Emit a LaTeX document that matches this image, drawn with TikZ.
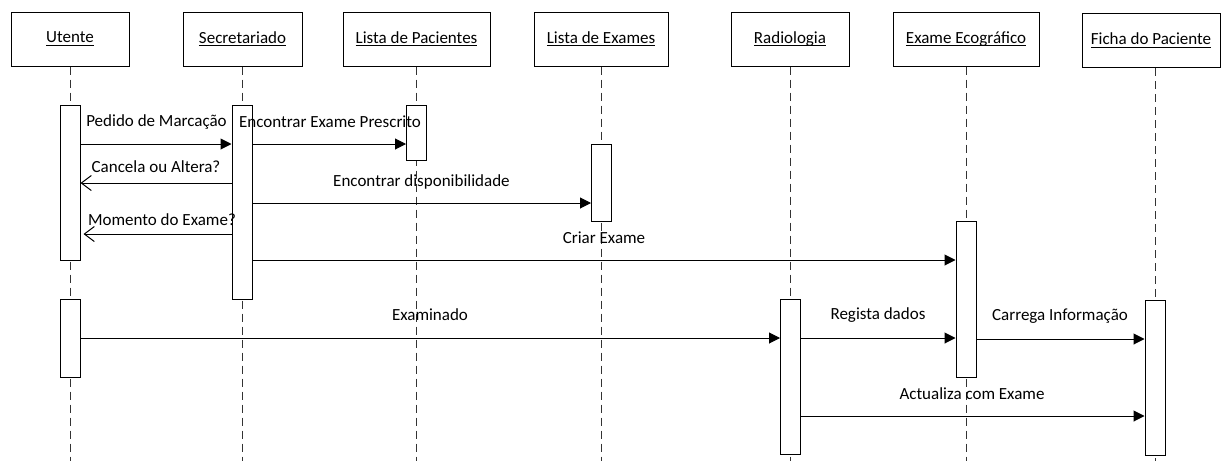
\documentclass[tikz,border=0pt]{standalone}
\usepackage{fontspec}
\setmainfont{Carlito}
\usetikzlibrary{arrows.meta}
% underline with a fixed offset and thickness, crossing descenders
\newcommand\headul[1]{\setbox0\hbox{#1}\rlap{\copy0}\rule[-3pt]{\wd0}{1pt}}
\begin{document}
\begin{tikzpicture}[x=1pt,y=-1pt,
  head/.style={draw, line width=1pt, minimum height=54pt, inner sep=0pt,
    font=\fontsize{17}{20}\selectfont},
  bar/.style={draw, fill=white, line width=1pt, minimum width=20pt, inner sep=0pt},
  life/.style={draw=black!80, line width=1pt, dash pattern=on 8pt off 5pt},
  sync/.style={line width=1pt, -{Triangle[length=11pt,width=11pt]}},
  reply/.style={line width=1pt, -{Straight Barb[length=10pt,width=15pt]}},
  lbl/.style={font=\fontsize{17}{20}\selectfont, inner sep=0pt}
]
\useasboundingbox (0,0) rectangle (1221,461);

% participants
\node[head, minimum width=118pt] (hU) at (70,39)    {\headul{Utente}};
\node[head, minimum width=119pt] (hS) at (242.5,39) {\headul{Secretariado}};
\node[head, minimum width=147pt] (hP) at (416.5,39) {\headul{Lista de Pacientes}};
\node[head, minimum width=134pt] (hE) at (601,39)   {\headul{Lista de Exames}};
\node[head, minimum width=118pt] (hR) at (790,39)   {\headul{Radiologia}};
\node[head, minimum width=146pt] (hX) at (966,39)   {\headul{Exame Ecográfico}};
\node[head, minimum width=138pt] (hF) at (1151,40.5) {\headul{Ficha do Paciente}};

% lifelines
\coordinate (bottom) at (0,461);
\foreach \h in {hU,hS,hP,hE,hR,hX} {
  \draw[life] (\h.south) -- (\h.south |- bottom);
}
\draw[life] (1155,68) coordinate (fTop) -- (fTop |- bottom);

% activation bars
\node[bar, minimum height=155pt] (u1) at (70,182.5) {};
\node[bar, minimum height=78pt]  (u2) at (70,338) {};
\node[bar, minimum height=194pt] (s1) at (242,202) {};
\node[bar, minimum height=55pt]  (p1) at (416.5,132.5) {};
\node[bar, minimum height=77pt]  (e1) at (601.5,182.5) {};
\node[bar, minimum height=156pt] (x1) at (966,299) {};
\node[bar, minimum height=155pt] (r1) at (790.5,376.5) {};
\node[bar, minimum height=155pt] (f1) at (1155,377.5) {};

% message heights
\coordinate (m1) at (0,144);
\coordinate (m2) at (0,183);
\coordinate (m3) at (0,203);
\coordinate (m4) at (0,234);
\coordinate (m5) at (0,260);
\coordinate (m6) at (0,338);
\coordinate (m7) at (0,339);
\coordinate (m8) at (0,416);

% messages
\draw[sync]  (u1.east |- m1) -- (s1.west |- m1);
\draw[sync]  (s1.east |- m1) -- (p1.west |- m1);
\draw[reply] (s1.west |- m2) -- (u1.east |- m2);
\draw[sync]  (s1.east |- m3) -- (e1.west |- m3);
\draw[reply] (s1.west |- m4) -- ([xshift=3pt]u1.east |- m4);
\draw[sync]  (s1.east |- m5) -- (x1.west |- m5);
\draw[sync]  (u2.east |- m6) -- (r1.west |- m6);
\draw[sync]  (r1.east |- m6) -- (x1.west |- m6);
\draw[sync]  (x1.east |- m7) -- (f1.west |- m7);
\draw[sync]  (r1.east |- m8) -- (f1.west |- m8);

% message labels
\node[lbl] (l1)  at (156.5,122) {Pedido de Marcação};
\node[lbl] (l2)  at (330,122)   {Encontrar Exame Prescrito};
\node[lbl] (l3)  at (156,167)   {Cancela ou Altera?};
\node[lbl] (l4)  at (421.5,182) {Encontrar disponibilidade};
\node[lbl] (l5)  at (162,220)   {Momento do Exame?};
\node[lbl] (l6)  at (604,238)   {Criar Exame};
\node[lbl] (l7)  at (430,315)   {Examinado};
\node[lbl] (l8)  at (878,315)   {Regista dados};
\node[lbl] (l9)  at (1060,316)  {Carrega Informação};
\node[lbl] (l10) at (972,394)   {Actualiza com Exame};
\end{tikzpicture}
\end{document}
